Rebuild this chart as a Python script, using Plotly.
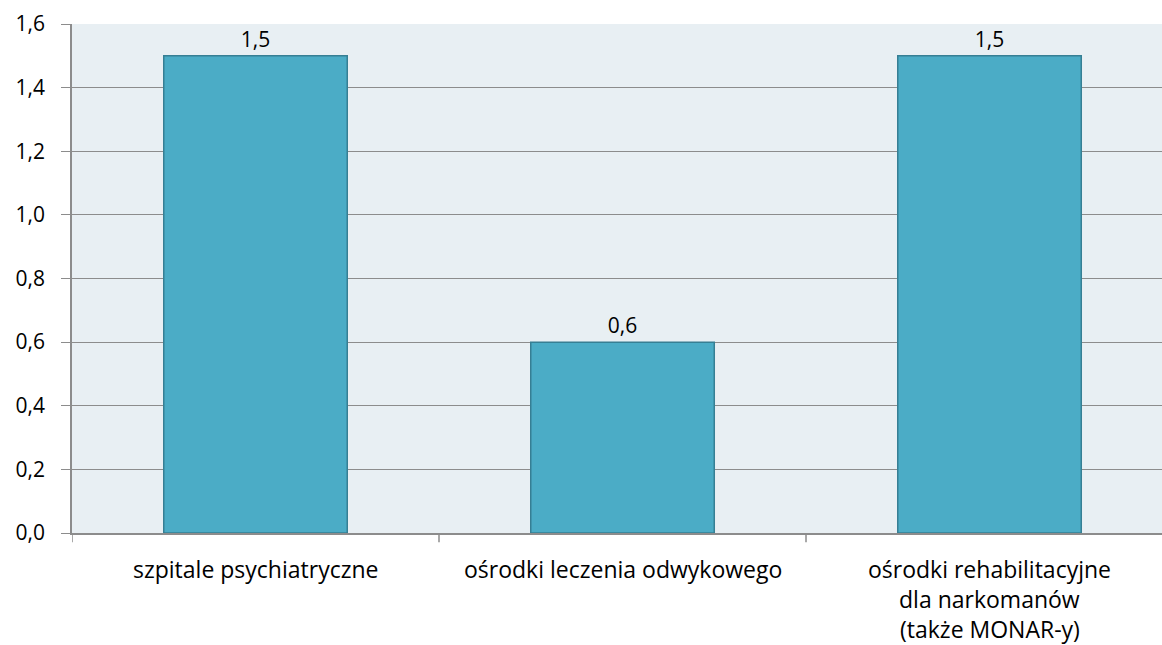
import plotly.graph_objects as go

categories = [
    ["szpitale psychiatryczne"],
    ["ośrodki leczenia odwykowego"],
    ["ośrodki rehabilitacyjne", "dla narkomanów", "(także MONAR-y)"],
]
values = [1.5, 0.6, 1.5]
y_ticks = [0.0, 0.2, 0.4, 0.6, 0.8, 1.0, 1.2, 1.4, 1.6]

FONT = "'Open Sans', sans-serif"
NUM_SIZE = 21
LABEL_SIZE = 23
AXIS_GRAY = "#8c8c8c"
LINE_STEP = 30  # pixel spacing between lines of a category label

x_pos = list(range(len(categories)))

fig = go.Figure(
    go.Bar(
        x=x_pos,
        y=values,
        width=0.5,
        marker=dict(color="#4bacc6", line=dict(color="#367f94", width=1.5)),
        texttemplate="%{y:.1f}",
        textposition="outside",
        textfont=dict(size=NUM_SIZE, color="#000000", family=FONT),
        cliponaxis=False,
    )
)

fig.update_layout(
    width=1162,
    height=645,
    margin=dict(l=72, r=0, t=24, b=112),
    paper_bgcolor="white",
    plot_bgcolor="#e8eff3",
    separators=", ",
    showlegend=False,
    font=dict(family=FONT, size=NUM_SIZE, color="#000000"),
)

fig.update_xaxes(
    range=[-0.5, 2.47],
    showticklabels=False,
    showgrid=False,
    showline=True,
    linecolor=AXIS_GRAY,
    linewidth=1.5,
    ticks="",
    zeroline=False,
)

# category labels, one annotation per line for wider line spacing
for xi, lines in zip(x_pos, categories):
    for li, line in enumerate(lines):
        fig.add_annotation(
            x=xi, y=0, xref="x", yref="paper",
            text=line, showarrow=False,
            xanchor="center", yanchor="middle",
            yshift=-(36 + LINE_STEP * li),
            font=dict(size=LABEL_SIZE, family=FONT, color="#000000"),
        )

# category boundary ticks below the axis
for b in [-0.5, 0.5, 1.5]:
    fig.add_shape(
        type="line", xref="x", yref="paper",
        x0=b, x1=b, y0=0, y1=-0.018,
        line=dict(color=AXIS_GRAY, width=1.5),
    )

fig.update_yaxes(
    range=[0, 1.6],
    tickvals=y_ticks,
    tickformat=".1f",
    showgrid=True,
    gridcolor=AXIS_GRAY,
    gridwidth=1.3,
    showline=True,
    linecolor=AXIS_GRAY,
    linewidth=1.5,
    ticks="outside",
    ticklen=9,
    tickcolor=AXIS_GRAY,
    tickwidth=1.3,
    zeroline=False,
    tickfont=dict(size=NUM_SIZE, family=FONT),
    ticklabelstandoff=12,
)

fig.write_html("out.html")
